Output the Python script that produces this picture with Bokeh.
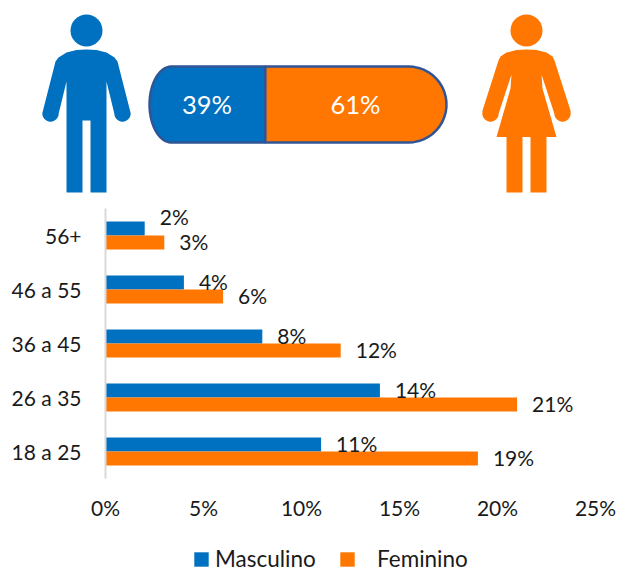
import numpy as np
from bokeh.plotting import figure
from bokeh.layouts import column
from bokeh.models import ColumnDataSource, FactorRange, Range1d, Legend, LegendItem, FixedTicker
from bokeh.transform import dodge
from bokeh.core.properties import value
from bokeh.embed import file_html
from bokeh.resources import INLINE

ages = ["18 a 25", "26 a 35", "36 a 45", "46 a 55", "56+"]
masculino = [11, 14, 8, 4, 2]
feminino = [19, 21, 12, 6, 3]
share_labels = ["Masculino", "Feminino"]
share_values = [39, 61]
x_ticks = [0, 5, 10, 15, 20, 25]

FONT = "Lato"
BLUE = "#0070C0"
ORANGE = "#FF7700"
EDGE = "#2F5597"
INK = "#1A1A1A"
W, H = 617, 572
TOP_H = 204
LEG_H = 32
BASE = dict(output_backend="svg", toolbar_location=None, min_border=0, min_border_left=0,
            min_border_right=0, min_border_top=0, min_border_bottom=0, outline_line_color=None,
            background_fill_color=None, border_fill_color=None, frame_align=False)


def arc(cx, cy, rx, ry, a0, a1, n=24):
    t = np.radians(np.linspace(a0, a1, n))
    return list(cx + rx * np.cos(t)), list(cy + ry * np.sin(t))


def mirrored(half, cx):
    xs = [q[0] for q in half]
    ys = [q[1] for q in half]
    return xs + [2 * cx - v for v in reversed(xs)], ys + list(reversed(ys))


# top panel: pictograms and share pill, measured in page pixels
top = figure(width=W, height=TOP_H, x_range=Range1d(0, W), y_range=Range1d(TOP_H, 0), **BASE)
top.axis.visible = False
top.grid.visible = False

cx = 86
man_half = [(86, 49), (76, 49.5), (66, 52), (58, 57), (55, 61), (42, 112)]
man_half += list(zip(*arc(50, 113, 8.2, 8.2, 180, 0, 16)))
man_half += [(66, 81), (66, 192), (82, 192), (82, 120)]
mx, my = mirrored(man_half, cx)
top.patch(mx, my, fill_color=BLUE, line_color=None)
top.circle(x=[cx], y=[30], radius=16, fill_color=BLUE, line_color=None)

cw = 526
woman_half = [(526, 49), (516, 49.5), (506, 52), (500, 56), (498, 60), (482, 110)]
woman_half += list(zip(*arc(490, 113, 8.2, 8.2, 180, 0, 16)))
woman_half += [(511, 74), (510, 88), (496, 136.5), (506, 136.5), (506, 192), (522, 192), (522, 136.5)]
wx, wy = mirrored(woman_half, cw)
top.patch(wx, wy, fill_color=ORANGE, line_color=None)
top.circle(x=[cw], y=[30], radius=16, fill_color=ORANGE, line_color=None)

# pill, split by the two shares
pl, pr, pt, pb = 149.0, 446.0, 66.0, 142.0
split = pl + (pr - pl) * share_values[0] / sum(share_values)
pm = (pt + pb) / 2
rr = (pb - pt) / 2
lax, lay = arc(pl + 22, pm, 22, rr, 270, 90, 24)
rax, ray = arc(pr - rr, pm, rr, rr, -90, 90, 24)
top.patch([split] + lax + [split], [pt] + lay + [pb], fill_color=BLUE, line_color=EDGE, line_width=2.5)
top.patch([split] + rax + [split], [pt] + ray + [pb], fill_color=ORANGE, line_color=EDGE, line_width=2.5)
top.text(x=[(pl + split) / 2 - 0.5, (split + pr) / 2 - 0.5], y=[pm - 0.5, pm - 0.5],
         text=[f"{v}%" for v in share_values],
         text_font=value(FONT), text_font_size="25.5px", text_color="white",
         text_align="center", text_baseline="middle")

# bar chart
src = ColumnDataSource(dict(age=ages, m=masculino, f=feminino,
                            ml=[f"{v}%" for v in masculino], fl=[f"{v}%" for v in feminino],
                            mo=[-12 if a == "56+" else -1 for a in ages]))
base2 = dict(BASE, min_border_left=105, min_border_right=22, min_border_top=4, min_border_bottom=62)
p = figure(width=W, height=H - TOP_H - LEG_H,
           y_range=FactorRange(factors=ages, range_padding=0, factor_padding=0),
           x_range=Range1d(0, 25), **base2)
p.grid.visible = False
OFF = 0.13
p.hbar(y=dodge("age", OFF, range=p.y_range), right="m", left=0, height=0.26, source=src,
       fill_color=BLUE, line_color=None)
p.hbar(y=dodge("age", -OFF, range=p.y_range), right="f", left=0, height=0.26, source=src,
       fill_color=ORANGE, line_color=None)
p.text(x="m", y=dodge("age", OFF, range=p.y_range), text="ml", source=src, x_offset=15, y_offset="mo",
       text_font=value(FONT), text_font_size="21px", text_color=INK, text_baseline="middle")
p.text(x="f", y=dodge("age", -OFF, range=p.y_range), text="fl", source=src, x_offset=15, y_offset=-1,
       text_font=value(FONT), text_font_size="21px", text_color=INK, text_baseline="middle")

xa = p.xaxis[0]
xa.ticker = FixedTicker(ticks=x_ticks)
xa.major_label_overrides = {v: f"{v}%" for v in x_ticks}
xa.axis_line_color = None
xa.major_tick_line_color = None
xa.minor_tick_line_color = None
xa.major_label_standoff = 10
xa.major_label_text_font = FONT
xa.major_label_text_font_size = "21px"
xa.major_label_text_color = INK
ya = p.yaxis[0]
ya.axis_line_color = "#D9D9D9"
ya.axis_line_width = 2
ya.major_tick_line_color = None
ya.minor_tick_line_color = None
ya.major_label_standoff = 18
ya.major_label_text_font = FONT
ya.major_label_text_font_size = "21px"
ya.major_label_text_color = INK

# legend strip
leg = figure(width=W, height=LEG_H, x_range=Range1d(0, 1), y_range=Range1d(0, 1), **BASE)
leg.axis.visible = False
leg.grid.visible = False
rm = leg.hbar(y=[-5], right=[1], height=1, fill_color=BLUE, line_color=None)
rf = leg.hbar(y=[-5], right=[1], height=1, fill_color=ORANGE, line_color=None)
for name, rend, lx, standoff in [(share_labels[0], rm, 192, 5), (share_labels[1], rf, 338, 21)]:
    lg = Legend(items=[LegendItem(label=value(name), renderers=[rend])], location=(lx, 0),
                padding=0, margin=0, spacing=0, glyph_width=18, glyph_height=18, label_standoff=standoff,
                label_text_font=FONT, label_text_font_size="22.5px", label_text_color=INK,
                label_height=14, background_fill_alpha=0, border_line_color=None)
    leg.add_layout(lg, "center")

page = column(top, p, leg, spacing=0)
open("out.html", "w").write(file_html(page, INLINE))
